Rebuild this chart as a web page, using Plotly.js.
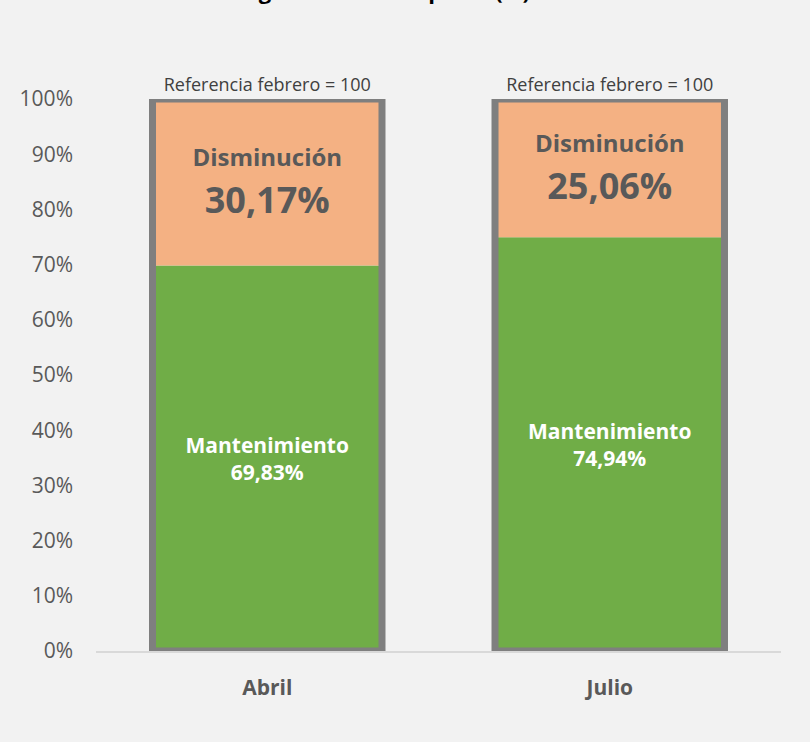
<!DOCTYPE html>
<html>
<head>
<meta charset="utf-8">
<script src="https://cdn.plot.ly/plotly-3.0.1.min.js"></script>
<style>html,body{margin:0;padding:0;background:#f2f2f2;}#chart{width:810px;height:742px;}</style>
</head>
<body>
<div id="chart"></div>
<script>
const categories = ["Abril", "Julio"];
const mantenimiento = [69.83, 74.94];
const disminucion = [30.17, 25.06];
const referencia = [100, 100];
const mantLabels = ["69,83%", "74,94%"];
const dismLabels = ["30,17%", "25,06%"];
const yTickVals = [0,10,20,30,40,50,60,70,80,90,100];
const yTickText = ["0%","10%","20%","30%","40%","50%","60%","70%","80%","90%","100%"];
const titleText = "Ingresos de la empresa (%)";

const FONT = "Open Sans, Liberation Sans, sans-serif";
const barWidth = 0.67;

const traces = [
  {
    type: "bar", name: "Mantenimiento", x: categories, y: mantenimiento, base: [0,0],
    width: barWidth,
    marker: {color: "#70AD47", line: {width: 0}},
    text: mantLabels.map(v => "Mantenimiento<br>" + v),
    textposition: "inside", insidetextanchor: "middle", constraintext: "none",
    textfont: {family: FONT, size: 21, color: "#ffffff", weight: "bold"},
    hoverinfo: "skip"
  },
  {
    type: "bar", name: "Disminución", x: categories, y: disminucion, base: mantenimiento,
    width: barWidth,
    marker: {color: "#F4B183", line: {width: 0}},
    text: dismLabels.map(v => "<span style='font-size:24px'>Disminución</span><br>" + v),
    textposition: "inside", insidetextanchor: "middle", constraintext: "none",
    textfont: {family: FONT, size: 36, color: "#595959", weight: "bold"},
    hoverinfo: "skip"
  },
  {
    type: "bar", name: "Referencia", x: categories, y: referencia, base: [0,0],
    width: barWidth,
    marker: {color: "rgba(0,0,0,0)", line: {width: 7, color: "#7F7F7F"}},
    text: referencia.map(v => "Referencia febrero = " + v),
    textposition: "outside", constraintext: "none", cliponaxis: false,
    textfont: {family: FONT, size: 18, color: "#404040"},
    hoverinfo: "skip"
  }
];

const layout = {
  width: 810, height: 742,
  paper_bgcolor: "#f2f2f2", plot_bgcolor: "#f2f2f2",
  margin: {l: 96, r: 29, t: 99, b: 91},
  barmode: "overlay",
  showlegend: false,
  font: {family: FONT, color: "#595959"},
  xaxis: {
    type: "category",
    showgrid: false, zeroline: false,
    showline: true, linecolor: "#D9D9D9", linewidth: 2,
    ticks: "", tickfont: {family: FONT, size: 21, color: "#595959", weight: "bold"},
    ticklabelstandoff: 17
  },
  yaxis: {
    range: [0, 100], showgrid: false, zeroline: false, showline: false,
    tickvals: yTickVals, ticktext: yTickText,
    tickfont: {family: FONT, size: 21, color: "#595959"},
    ticks: "", ticklabelstandoff: 22
  },
  annotations: [{
    text: "<b>" + titleText + "</b>",
    xref: "paper", yref: "paper", x: 0.42, y: 1, yanchor: "bottom", yshift: 92,
    showarrow: false, font: {family: FONT, size: 22, color: "#000000"}
  }]
};

Plotly.newPlot("chart", traces, layout, {displayModeBar: false, staticPlot: true});
</script>
</body>
</html>
